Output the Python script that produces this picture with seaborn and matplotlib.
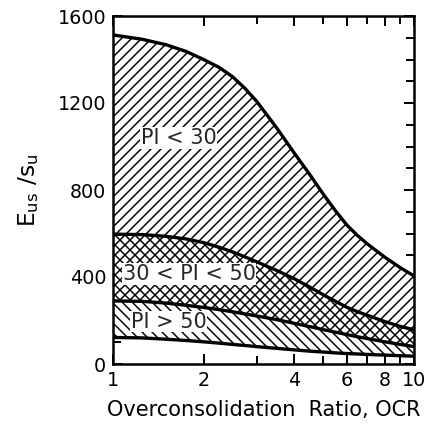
import numpy as np
import pandas as pd
import matplotlib
matplotlib.use("Agg")
import matplotlib.pyplot as plt
from matplotlib.ticker import FixedLocator, NullFormatter, FixedFormatter
import seaborn as sns

# ---- data ----
ocr = [1, 1.25, 1.5, 1.75, 2, 2.25, 2.5, 2.75, 3, 3.5, 4, 4.5, 5, 5.5, 6, 6.5, 7, 8, 9, 10]
upper_pi30 = [1513, 1493, 1468, 1437, 1400, 1364, 1320, 1266, 1208, 1085, 970, 872, 780, 702, 637, 590, 552, 491, 443, 405]
upper_pi3050 = [597, 595, 587, 575, 558, 537, 515, 492, 470, 430, 392, 354, 318, 287, 260, 240, 224, 195, 173, 157]
upper_pi50 = [290, 288, 280, 270, 260, 250, 240, 230, 221, 204, 187, 172, 158, 146, 135, 125, 117, 102, 90, 80]
lower_pi50 = [122, 120, 114, 108, 102, 96, 90, 85, 80, 72, 65, 59, 55, 51, 48, 46, 44, 41, 38, 36]

labels = ["PI < 30", "30 < PI < 50", "PI > 50"]
label_pos_x = [1.65, 1.79, 1.53]
label_pos_y = [1040, 413, 195]

x_major = [1, 2, 4, 6, 8, 10]
x_major_labels = ["1", "2", "4", "6", "8", "10"]
x_minor = [3, 5, 7, 9]
y_major = [0, 400, 800, 1200, 1600]
y_minor = list(range(0, 1700, 100))

DPI = 120
sns.set_theme(style="white")
plt.rcParams["font.family"] = ["DejaVu Sans"]
plt.rcParams["mathtext.default"] = "regular"
plt.rcParams["hatch.color"] = "black"
plt.rcParams["hatch.linewidth"] = 0.9

fig = plt.figure(figsize=(427 / DPI, 433 / DPI), dpi=DPI)
ax = fig.add_axes([113 / 427, 1 - 364 / 433, (414 - 113) / 427, (364 - 16) / 433])

df = pd.DataFrame({"ocr": ocr, "a": upper_pi30, "b": upper_pi3050,
                   "c": upper_pi50, "d": lower_pi50})

ax.fill_between(df["ocr"], df["b"], df["a"], facecolor="white",
                edgecolor="black", hatch="////", linewidth=0)
ax.fill_between(df["ocr"], df["c"], df["b"], facecolor="white",
                edgecolor="black", hatch="xxxx", linewidth=0)
ax.fill_between(df["ocr"], df["d"], df["c"], facecolor="white",
                edgecolor="black", hatch="\\\\\\\\", linewidth=0)

for col in ["a", "b", "c", "d"]:
    sns.lineplot(data=df, x="ocr", y=col, ax=ax, color="black", linewidth=2.0)

for t, lx, ly in zip(labels, label_pos_x, label_pos_y):
    ax.text(lx, ly, t, ha="center", va="center", fontsize=12.5,
            bbox=dict(facecolor="white", edgecolor="none", pad=0.5))

ax.set_xscale("log")
ax.set_xlim(1, 10)
ax.set_ylim(0, 1600)

ax.xaxis.set_major_locator(FixedLocator(x_major))
ax.xaxis.set_major_formatter(FixedFormatter(x_major_labels))
ax.xaxis.set_minor_locator(FixedLocator(x_minor))
ax.xaxis.set_minor_formatter(NullFormatter())
ax.yaxis.set_major_locator(FixedLocator(y_major))
ax.yaxis.set_minor_locator(FixedLocator(y_minor))

ax.tick_params(which="both", direction="in", top=True, right=True,
               bottom=True, left=True, color="black", width=1.2)
ax.tick_params(which="major", length=6, labelsize=11.5, pad=4, labelcolor="black")
ax.tick_params(which="minor", length=5)

for s in ax.spines.values():
    s.set_color("black")
    s.set_linewidth(1.5)

ax.set_xlabel("Overconsolidation  Ratio, OCR", fontsize=12.5, color="black", labelpad=6)
ax.set_ylabel(r"$E_{us}\ /s_u$", fontsize=14, color="black", labelpad=10)

fig.savefig("out.png", dpi=DPI, facecolor="white")
